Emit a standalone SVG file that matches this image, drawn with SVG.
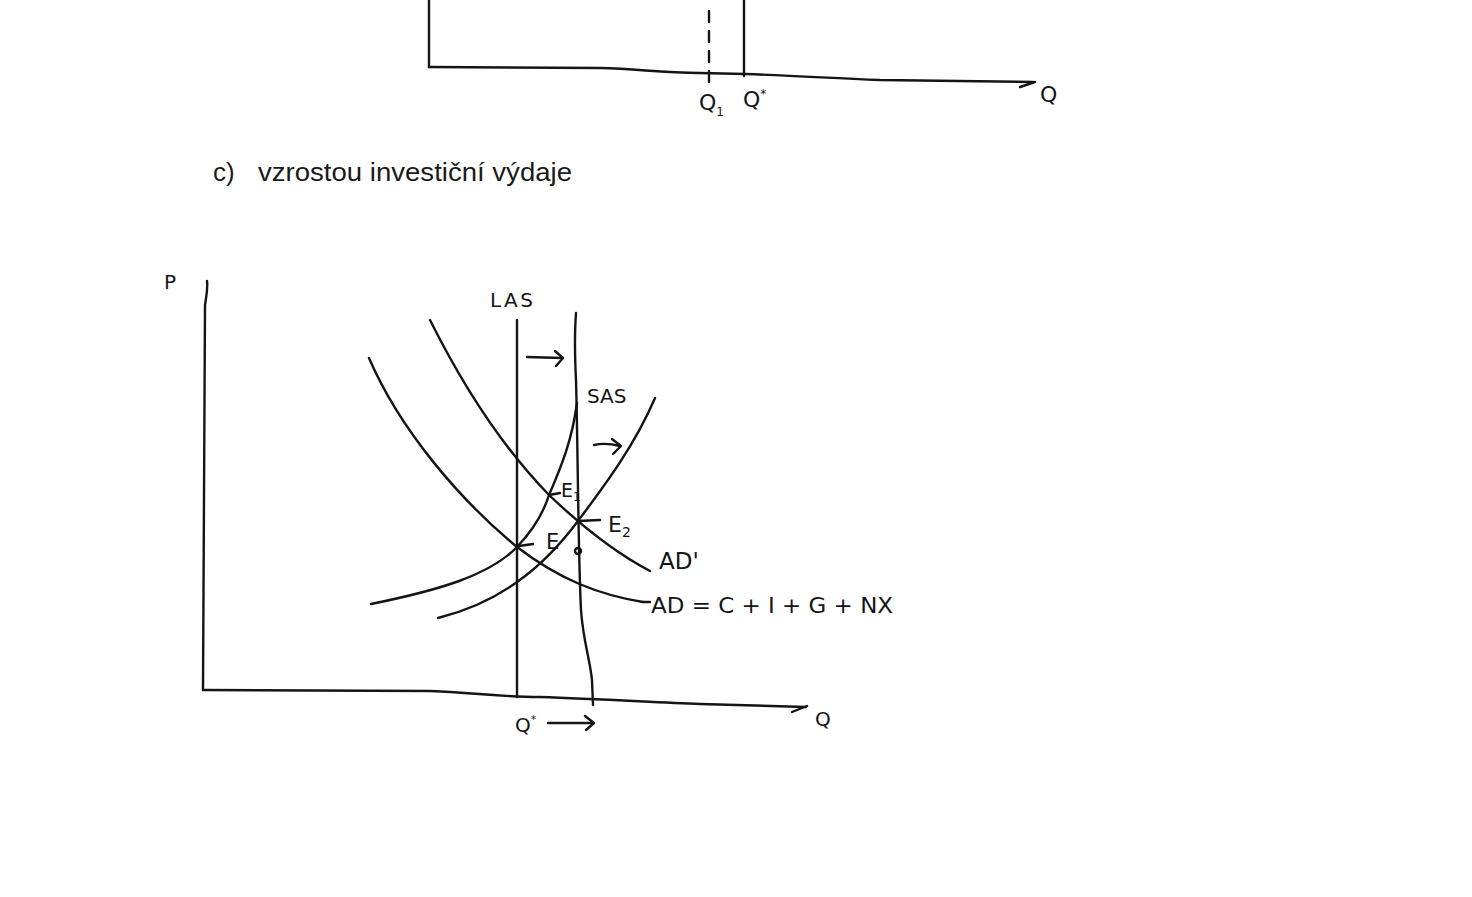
<svg xmlns="http://www.w3.org/2000/svg" width="1472" height="897" viewBox="0 0 1472 897">
<style>
.ln{fill:none;stroke:#141414;stroke-width:2.4;stroke-linecap:round;stroke-linejoin:round}
.hw{font-family:"DejaVu Sans","Liberation Sans",sans-serif;fill:#141414}
.tt{font-family:"Liberation Sans","Open Sans",sans-serif;fill:#1a1a1a;font-size:26px}
</style>
<rect width="1472" height="897" fill="#ffffff"/>
<g id="top-graph">
<path class="ln" d="M429,0 L429,67"/>
<path class="ln" d="M429,67 L600,68 C640,69 660,73 700,73 L745,74 C800,76 830,78 880,80 L1033,82"/>
<path class="ln" d="M1020,87 L1035,82"/>
<path class="ln" d="M709,11 L709,82" stroke-dasharray="11 9"/>
<path class="ln" d="M744,0 L744,76"/>
<text class="hw" x="699" y="110" font-size="22">Q<tspan font-size="12" dy="6">1</tspan></text>
<text class="hw" x="743" y="107" font-size="22">Q<tspan font-size="12" dy="-9">*</tspan></text>
<text class="hw" x="1040" y="102" font-size="22">Q</text>
</g>
<g id="heading">
<text class="tt" x="213" y="181">c)</text>
<text class="tt" x="258" y="181" textLength="314" lengthAdjust="spacingAndGlyphs">vzrostou investiční výdaje</text>
</g>
<g id="axes">
<path class="ln" d="M207,281 C208,290 206,298 205,305 L203,690"/>
<path class="ln" d="M203,690 L430,691 C480,693 500,697 540,697 C600,699 650,702 700,704 L806,707"/>
<path class="ln" d="M792,712 L807,706"/>
<text class="hw" x="164" y="289" font-size="20">P</text>
<text class="hw" x="815" y="726" font-size="20">Q</text>
</g>
<g id="LAS">
<path class="ln" d="M517,320 L517,697"/>
<text class="hw" x="490" y="307" font-size="20" textLength="43" lengthAdjust="spacing">LAS</text>
</g>
<g id="LAS2">
<path class="ln" d="M576,313 C574,340 575,360 576,380 C578,450 578,550 581,610 C583,640 590,660 592,680 L593,705"/>
</g>
<g id="AD">
<path class="ln" d="M369,358 C400,430 460,500 517,547 C560,580 600,595 643,602"/>
<path class="ln" d="M643,602 L650,602"/>
<text class="hw" x="651" y="613" font-size="21" textLength="242" lengthAdjust="spacingAndGlyphs">AD = C + I + G + NX</text>
</g>
<g id="AD2">
<path class="ln" d="M430,320 C470,400 510,455 549,495 C570,515 610,550 650,571"/>
<text class="hw" x="659" y="569" font-size="23">AD'</text>
</g>
<g id="SAS1">
<path class="ln" d="M371,604 C440,590 490,575 517,547 C535,528 545,508 549,495 C562,465 572,440 577,403"/>
</g>
<g id="SAS2">
<path class="ln" d="M438,618 C470,610 495,598 517,582 C540,566 560,545 578,521 C605,485 635,445 655,398"/>
<text class="hw" x="587" y="403" font-size="20">SAS</text>
</g>
<g id="E0">
<path class="ln" d="M519,546 L533,544"/>
<text class="hw" x="546" y="549" font-size="21">E</text>
<circle class="ln" cx="578" cy="551" r="3"/>
</g>
<g id="E1">
<path class="ln" d="M549,495 L560,493"/>
<text class="hw" x="561" y="497" font-size="19">E<tspan font-size="12" dy="4" fill="#141414">1</tspan></text>
</g>
<g id="E2">
<path class="ln" d="M578,521 L600,520"/>
<text class="hw" x="608" y="532" font-size="22">E<tspan font-size="14" dy="5">2</tspan></text>
</g>
<g id="connectors">
<path class="ln" d="M527,357 L562,358"/>
<path class="ln" d="M555,351 L563,358 L556,366"/>
<path class="ln" d="M594,445 C603,443 612,444 620,446"/>
<path class="ln" d="M612,439 L621,446 L613,454"/>
<path class="ln" d="M548,723 L593,723"/>
<path class="ln" d="M585,716 L594,723 L586,730"/>
<text class="hw" x="515" y="732" font-size="20">Q<tspan font-size="11" dy="-9">*</tspan></text>
</g>
</svg>
